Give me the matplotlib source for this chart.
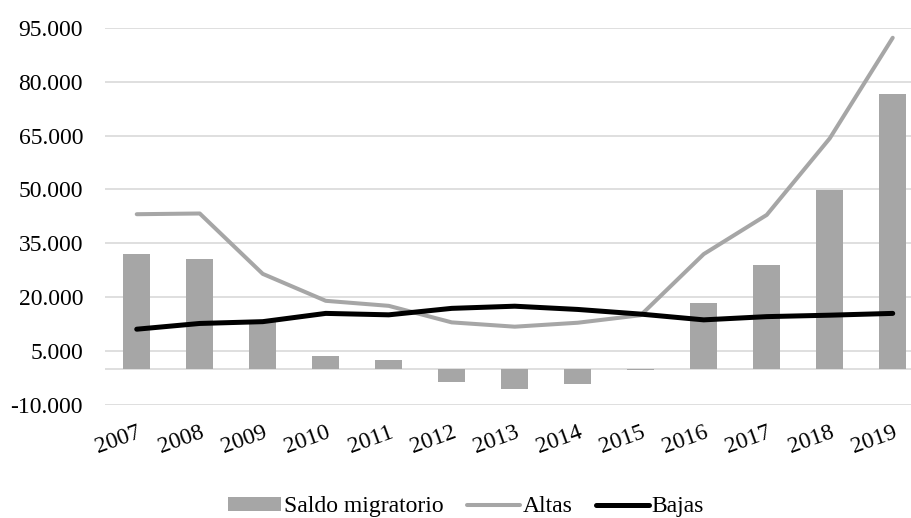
import matplotlib
matplotlib.use("Agg")
import matplotlib.pyplot as plt
import numpy as np


# ------------------------------------------------------
# Data
# ------------------------------------------------------

years = ["2007", "2008", "2009", "2010", "2011", "2012", "2013",
         "2014", "2015", "2016", "2017", "2018", "2019"]

saldo = [32000, 30600, 13200, 3600, 2400, -3500, -5500,
         -4100, -300, 18400, 29000, 49800, 76500]

altas = [43100, 43300, 26500, 19000, 17600, 13000, 11800,
         12900, 15000, 32000, 42900, 64200, 92200]

bajas = [11100, 12700, 13200, 15500, 15100, 16900, 17500,
         16600, 15300, 13700, 14600, 15000, 15500]

y_ticks = [-10000, 5000, 20000, 35000, 50000, 65000, 80000, 95000]


# ------------------------------------------------------
# Figure
# ------------------------------------------------------

plt.rcParams["font.family"] = ["Liberation Serif", "DejaVu Serif"]

fig = plt.figure(figsize=(9.12, 5.18), dpi=100)

ax = fig.add_axes([0.1154, 0.2181, 0.898, 0.7284])

x = np.arange(len(years))

bars = ax.bar(
    x,
    saldo,
    width=0.43,
    color="#a6a6a6",
    label="Saldo migratorio",
    zorder=2
)

line_altas, = ax.plot(
    x,
    altas,
    color="#a6a6a6",
    linewidth=2.9,
    solid_capstyle="round",
    label="Altas",
    zorder=3
)

line_bajas, = ax.plot(
    x,
    bajas,
    color="#000000",
    linewidth=3.6,
    solid_capstyle="round",
    label="Bajas",
    zorder=4
)

ax.set_xlim(-0.5, len(years) - 0.5)
ax.set_ylim(-10000, 95000)

ax.set_yticks(y_ticks)
ax.set_yticklabels(
    [f"{v:,}".replace(",", ".") for v in y_ticks],
    fontsize=17
)

ax.set_xticks(x)
ax.set_xticklabels(
    years,
    fontsize=17,
    rotation=20,
    ha="right",
    rotation_mode="anchor"
)

ax.tick_params(axis="both", length=0)
ax.tick_params(axis="y", pad=16)
ax.tick_params(axis="x", pad=12)

ax.grid(axis="y", color="#d9d9d9", linewidth=1.2, zorder=0)
ax.axhline(0, color="#d9d9d9", linewidth=1.2, zorder=1)

for spine in ax.spines.values():
    spine.set_visible(False)

fig.legend(
    handles=[bars, line_altas, line_bajas],
    loc="lower center",
    bbox_to_anchor=(0.511, -0.04),
    ncol=3,
    frameon=False,
    fontsize=17,
    handlelength=2.25,
    handleheight=0.5,
    handletextpad=0.1,
    columnspacing=1.0
)

fig.savefig("out.png", dpi=100)
